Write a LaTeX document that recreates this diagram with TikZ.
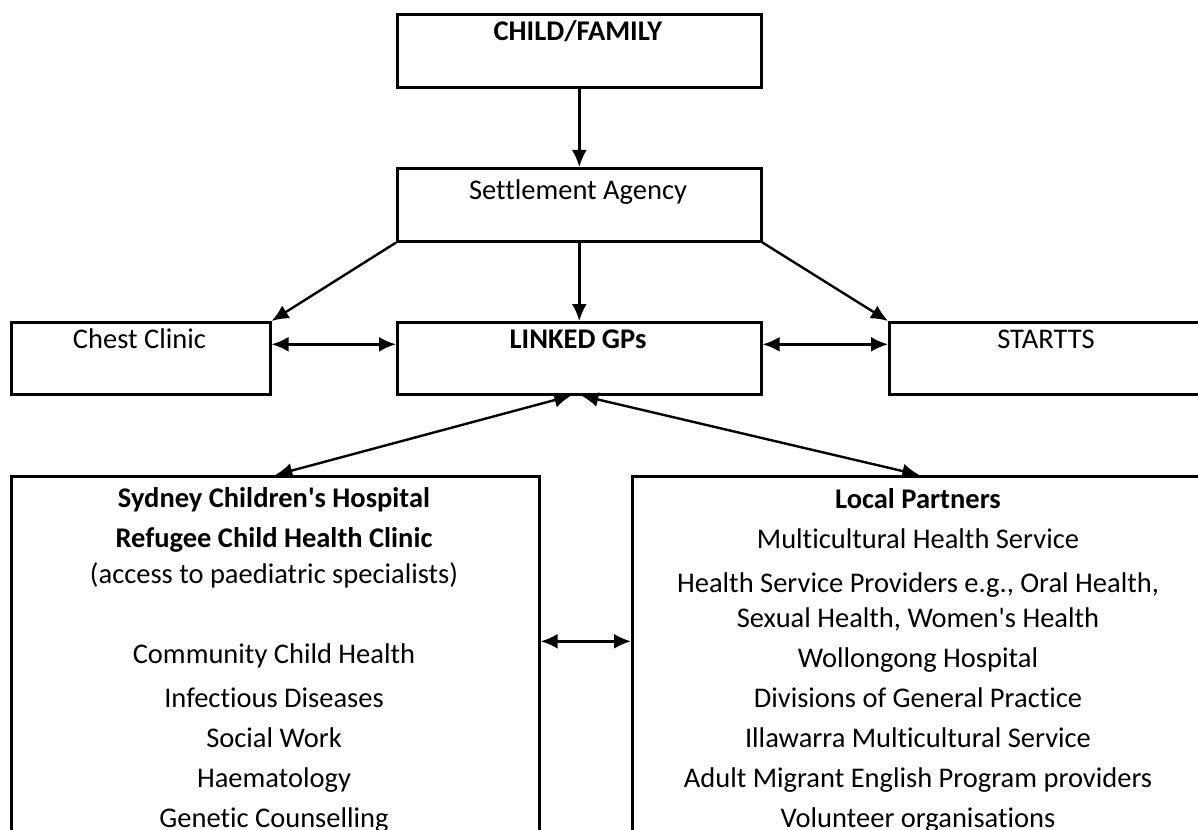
\documentclass[tikz,border=0pt]{standalone}
\usepackage{fontspec}
\setmainfont{Carlito}[Ligatures=NoCommon]
\usetikzlibrary{arrows.meta}

\begin{document}
\begin{tikzpicture}[x=1pt, y=-1pt]
	\tikzset{boite/.style={draw=black, line width=2.6pt, anchor=north west, inner sep=0pt},
		texte/.style={anchor=base, inner sep=0pt, align=center, font=\fontsize{28.5}{40}\selectfont},
		fleche/.style={line width=2.4pt, >={Latex[length=17pt, width=15pt]}, ->},
		bifleche/.style={fleche, <->}};
	\useasboundingbox (0,0) rectangle (1198,829);
	\clip (0,0) rectangle (1198,829);

	\node[boite, minimum width=364pt, minimum height=73pt] (famille) at (396,13) {};
	\node[boite, minimum width=364pt, minimum height=73pt] (agence) at (396,167) {};
	\node[boite, minimum width=259pt, minimum height=72pt] (thorax) at (10,321) {};
	\node[boite, minimum width=364pt, minimum height=72pt] (gp) at (396,321) {};
	\node[boite, minimum width=316pt, minimum height=72pt] (startts) at (888,321) {};
	\node[boite, minimum width=528pt, minimum height=380pt] (hopital) at (10,475) {};
	\node[boite, minimum width=574pt, minimum height=380pt] (partenaires) at (631,475) {};

	\node[texte] (famille-t) at (578,41) {\textbf{CHILD/FAMILY}};
	\node[texte] (agence-t) at (578,199) {Settlement Agency};
	\node[texte] (thorax-t) at (139.5,348) {Chest Clinic};
	\node[texte] (gp-t) at (578,348) {\textbf{LINKED GPs}};
	\node[texte] (startts-t) at (1046,348) {STARTTS};
	% multi-line nodes: base is the last line
	\node[texte] (hopital-t) at (274,827) {\textbf{Sydney Children\textquotesingle s Hospital}\\
		\textbf{Refugee Child Health Clinic}\\[-4pt]
		(access to paediatric specialists)\\[40pt]
		Community Child Health\\[4pt]
		Infectious Diseases\\
		Social Work\\
		Haematology\\
		Genetic Counselling};
	\node[texte] (partenaires-t) at (918,827) {\textbf{Local Partners}\\
		Multicultural Health Service\\[4pt]
		Health Service Providers e.g., Oral Health,\\[-5pt]
		Sexual Health, Women\textquotesingle s Health\\
		Wollongong Hospital\\
		Divisions of General Practice\\
		Illawarra Multicultural Service\\
		Adult Migrant English Program providers\\
		Volunteer organisations};

	\draw[fleche] (famille) -- (agence);
	\draw[fleche] (agence.south west) -- (thorax.north east);
	\draw[fleche] (agence) -- (gp);
	\draw[fleche] (agence.south east) -- (startts.north west);
	\draw[bifleche] ([yshift=14pt]thorax.east) -- ([yshift=14pt]gp.west);
	\draw[bifleche] ([yshift=14pt]gp.east) -- ([yshift=14pt]startts.west);
	\draw[bifleche] ([xshift=-8pt]gp.south) -- (hopital.north);
	\draw[bifleche] ([xshift=2pt]gp.south) -- (partenaires.north);
	\draw[bifleche] ([yshift=25pt]hopital.east) -- ([yshift=25pt]partenaires.west);
\end{tikzpicture}
\end{document}
